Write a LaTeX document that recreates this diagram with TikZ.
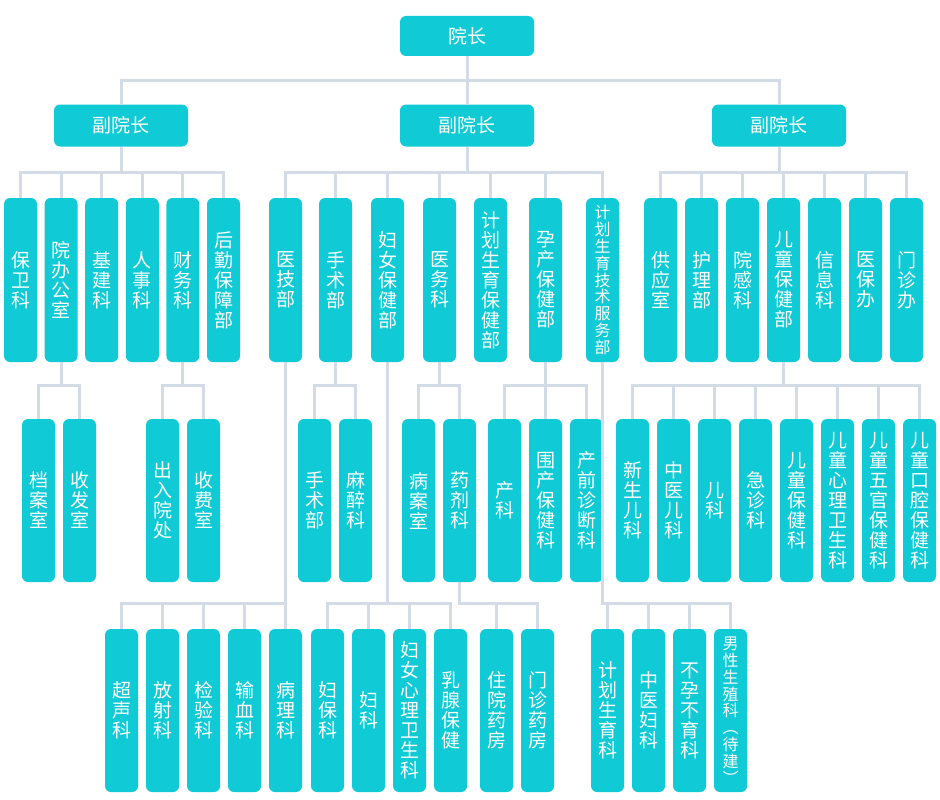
\documentclass[tikz,border=0pt]{standalone}
\usepackage{fontspec}
\newfontfamily\cjk{Noto Sans CJK SC}
\usetikzlibrary{positioning}
\definecolor{boxcyan}{HTML}{10CAD6}
\definecolor{linegray}{HTML}{D3DCE6}

\begin{document}
\begin{tikzpicture}[
    x=1pt,y=-1pt,
    node distance=8pt,
    head/.style={rectangle,fill=boxcyan,text=white,minimum width=134pt,minimum height=42pt,inner sep=0pt,outer sep=0pt,rounded corners=6pt,font=\cjk\fontsize{19}{20}\selectfont},
    dept/.style={rectangle,fill=boxcyan,text=white,minimum width=33pt,minimum height=164pt,inner sep=0pt,outer sep=0pt,align=center,rounded corners=6pt,font=\cjk\fontsize{19}{20}\selectfont},
    small/.style={font=\cjk\fontsize{16}{16.8}\selectfont},
    conn/.style={draw=linegray,line width=3pt}
]
    \useasboundingbox (0,0) rectangle (940,800);

    % Leaders
    \node[head,minimum height=40pt] (yz) at (467,36) {院长};
    \node[head] (fyzA) at (121,125.5) {副院长};
    \node[head] (fyzB) at (467,125.5) {副院长};
    \node[head] (fyzC) at (779,125.5) {副院长};

    % First row
    \node[dept] (bwk) at (20.5,280) {保\\卫\\科};
    \node[dept,right=7.6pt of bwk] (bgs) {院\\办\\公\\室};
    \node[dept,right=7.6pt of bgs] (jjk) {基\\建\\科};
    \node[dept,right=7.6pt of jjk] (rsk) {人\\事\\科};
    \node[dept,right=7.6pt of rsk] (cwk) {财\\务\\科};
    \node[dept,right=7.6pt of cwk] (hqb) {后\\勤\\保\\障\\部};

    \node[dept] (yjb) at (285.5,280) {医\\技\\部};
    \node[dept] (ssb) at (335.5,280) {手\\术\\部};
    \node[dept] (fnb) at (387.5,280) {妇\\女\\保\\健\\部};
    \node[dept] (ywk) at (439.5,280) {医\\务\\科};
    \node[dept] (jsb) at (490.5,280) {计\\划\\生\\育\\保\\健\\部};
    \node[dept] (ycb) at (545.5,280) {孕\\产\\保\\健\\部};
    \node[dept,small] (jfb) at (602.5,280) {计\\划\\生\\育\\技\\术\\服\\务\\部};

    \node[dept] (gys) at (660.5,280) {供\\应\\室};
    \node[dept,right=of gys] (hlb) {护\\理\\部};
    \node[dept,right=of hlb] (ygk) {院\\感\\科};
    \node[dept,right=of ygk] (etb) {儿\\童\\保\\健\\部};
    \node[dept,right=of etb] (xxk) {信\\息\\科};
    \node[dept,right=of xxk] (ybb) {医\\保\\办};
    \node[dept,right=of ybb] (mzb) {门\\诊\\办};

    % Second row
    \node[dept,minimum height=163pt] (das) at (38.5,500.5) {档\\案\\室};
    \node[dept,minimum height=163pt,right=of das] (sfs) {收\\发\\室};
    \node[dept,minimum height=163pt] (cry) at (162.5,500.5) {出\\入\\院\\处};
    \node[dept,minimum height=163pt,right=of cry] (sfy) {收\\费\\室};
    \node[dept,minimum height=163pt] (ssz) at (314.5,500.5) {手\\术\\部};
    \node[dept,minimum height=163pt,right=of ssz] (mzk) {麻\\醉\\科};
    \node[dept,minimum height=163pt] (bas) at (418.5,500.5) {病\\案\\室};
    \node[dept,minimum height=163pt,right=of bas] (yjk) {药\\剂\\科};
    \node[dept,minimum height=163pt] (ck) at (504.5,500.5) {产\\科};
    \node[dept,minimum height=163pt,right=of ck] (wck) {围\\产\\保\\健\\科};
    \node[dept,minimum height=163pt,right=of wck] (cqk) {产\\前\\诊\\断\\科};
    \node[dept,minimum height=163pt] (xsk) at (632.5,500.5) {新\\生\\儿\\科};
    \node[dept,minimum height=163pt,right=of xsk] (zyk) {中\\医\\儿\\科};
    \node[dept,minimum height=163pt,right=of zyk] (ek) {儿\\科};
    \node[dept,minimum height=163pt,right=of ek] (jzk) {急\\诊\\科};
    \node[dept,minimum height=163pt,right=of jzk] (etk) {儿\\童\\保\\健\\科};
    \node[dept,minimum height=163pt,right=of etk] (xlk) {儿\\童\\心\\理\\卫\\生\\科};
    \node[dept,minimum height=163pt,right=of xlk] (wgk) {儿\\童\\五\\官\\保\\健\\科};
    \node[dept,minimum height=163pt,right=of wgk] (kqk) {儿\\童\\口\\腔\\保\\健\\科};

    % Third row
    \node[dept,minimum height=163pt] (csk) at (121.5,710.5) {超\\声\\科};
    \node[dept,minimum height=163pt,right=of csk] (fsk) {放\\射\\科};
    \node[dept,minimum height=163pt,right=of fsk] (jyk) {检\\验\\科};
    \node[dept,minimum height=163pt,right=of jyk] (sxk) {输\\血\\科};
    \node[dept,minimum height=163pt,right=of sxk] (blk) {病\\理\\科};
    \node[dept,minimum height=163pt] (fbk) at (327.5,710.5) {妇\\保\\科};
    \node[dept,minimum height=163pt,right=of fbk] (fk) {妇\\科};
    \node[dept,minimum height=163pt,right=of fk] (fxl) {妇\\女\\心\\理\\卫\\生\\科};
    \node[dept,minimum height=163pt,right=of fxl] (rxb) {乳\\腺\\保\\健};
    \node[dept,minimum height=163pt] (zyf) at (496.5,710.5) {住\\院\\药\\房};
    \node[dept,minimum height=163pt,right=of zyf] (mzf) {门\\诊\\药\\房};
    \node[dept,minimum height=163pt] (jhk) at (607.5,710.5) {计\\划\\生\\育\\科};
    \node[dept,minimum height=163pt,right=of jhk] (zfk) {中\\医\\妇\\科};
    \node[dept,minimum height=163pt,right=of zfk] (byk) {不\\孕\\不\\育\\科};
    \node[dept,minimum height=163pt,small,right=of byk] (nxk) {男\\性\\生\\殖\\科\\︵\\待\\建\\︶};

    % Connectors
    \draw[conn] (yz.south) -- ++(0,25) -| (fyzA.north);
    \draw[conn] (yz.south) -- (fyzB.north);
    \draw[conn] (yz.south) -- ++(0,25) -| (fyzC.north);

    \draw[conn] (fyzA.south) -- ++(0,26) -| (bwk.north);
    \draw[conn] (fyzA.south) -- ++(0,26) -| (bgs.north);
    \draw[conn] (fyzA.south) -- ++(0,26) -| (jjk.north);
    \draw[conn] (fyzA.south) -- ++(0,26) -| (rsk.north);
    \draw[conn] (fyzA.south) -- ++(0,26) -| (cwk.north);
    \draw[conn] (fyzA.south) -- ++(0,26) -| (hqb.north);

    \draw[conn] (fyzB.south) -- ++(0,26) -| (yjb.north);
    \draw[conn] (fyzB.south) -- ++(0,26) -| (ssb.north);
    \draw[conn] (fyzB.south) -- ++(0,26) -| (fnb.north);
    \draw[conn] (fyzB.south) -- ++(0,26) -| (ywk.north);
    \draw[conn] (fyzB.south) -- ++(0,26) -| (jsb.north);
    \draw[conn] (fyzB.south) -- ++(0,26) -| (ycb.north);
    \draw[conn] (fyzB.south) -- ++(0,26) -| (jfb.north);

    \draw[conn] (fyzC.south) -- ++(0,26) -| (gys.north);
    \draw[conn] (fyzC.south) -- ++(0,26) -| (hlb.north);
    \draw[conn] (fyzC.south) -- ++(0,26) -| (ygk.north);
    \draw[conn] (fyzC.south) -- ++(0,26) -| (etb.north);
    \draw[conn] (fyzC.south) -- ++(0,26) -| (xxk.north);
    \draw[conn] (fyzC.south) -- ++(0,26) -| (ybb.north);
    \draw[conn] (fyzC.south) -- ++(0,26) -| (mzb.north);

    \draw[conn] (bgs.south) -- ++(0,23) -| (das.north);
    \draw[conn] (bgs.south) -- ++(0,23) -| (sfs.north);
    \draw[conn] (cwk.south) -- ++(0,23) -| (cry.north);
    \draw[conn] (cwk.south) -- ++(0,23) -| (sfy.north);
    \draw[conn] (ssb.south) -- ++(0,23) -| (ssz.north);
    \draw[conn] (ssb.south) -- ++(0,23) -| (mzk.north);
    \draw[conn] (ywk.south) -- ++(0,23) -| (bas.north);
    \draw[conn] (ywk.south) -- ++(0,23) -| (yjk.north);
    \draw[conn] (ycb.south) -- ++(0,23) -| (ck.north);
    \draw[conn] (ycb.south) -- ++(0,23) -| (wck.north);
    \draw[conn] (ycb.south) -- ++(0,23) -| (cqk.north);
    \draw[conn] (etb.south) -- ++(0,23) -| (xsk.north);
    \draw[conn] (etb.south) -- ++(0,23) -| (zyk.north);
    \draw[conn] (etb.south) -- ++(0,23) -| (ek.north);
    \draw[conn] (etb.south) -- ++(0,23) -| (jzk.north);
    \draw[conn] (etb.south) -- ++(0,23) -| (etk.north);
    \draw[conn] (etb.south) -- ++(0,23) -| (xlk.north);
    \draw[conn] (etb.south) -- ++(0,23) -| (wgk.north);
    \draw[conn] (etb.south) -- ++(0,23) -| (kqk.north);

    \draw[conn] (yjb.south) -- ++(0,241) -| (csk.north);
    \draw[conn] (yjb.south) -- ++(0,241) -| (fsk.north);
    \draw[conn] (yjb.south) -- ++(0,241) -| (jyk.north);
    \draw[conn] (yjb.south) -- ++(0,241) -| (sxk.north);
    \draw[conn] (yjb.south) -- ++(0,241) -| (blk.north);
    \draw[conn] (fnb.south) -- ++(0,241) -| (fbk.north);
    \draw[conn] (fnb.south) -- ++(0,241) -| (fk.north);
    \draw[conn] (fnb.south) -- ++(0,241) -| (fxl.north);
    \draw[conn] (fnb.south) -- ++(0,241) -| (rxb.north);
    \draw[conn] (yjk.south) -- ++(0,21) -| (zyf.north);
    \draw[conn] (yjk.south) -- ++(0,21) -| (mzf.north);
    \draw[conn] (jfb.south) -- ++(0,241) -| (jhk.north);
    \draw[conn] (jfb.south) -- ++(0,241) -| (zfk.north);
    \draw[conn] (jfb.south) -- ++(0,241) -| (byk.north);
    \draw[conn] (jfb.south) -- ++(0,241) -| (nxk.north);
\end{tikzpicture}
\end{document}
